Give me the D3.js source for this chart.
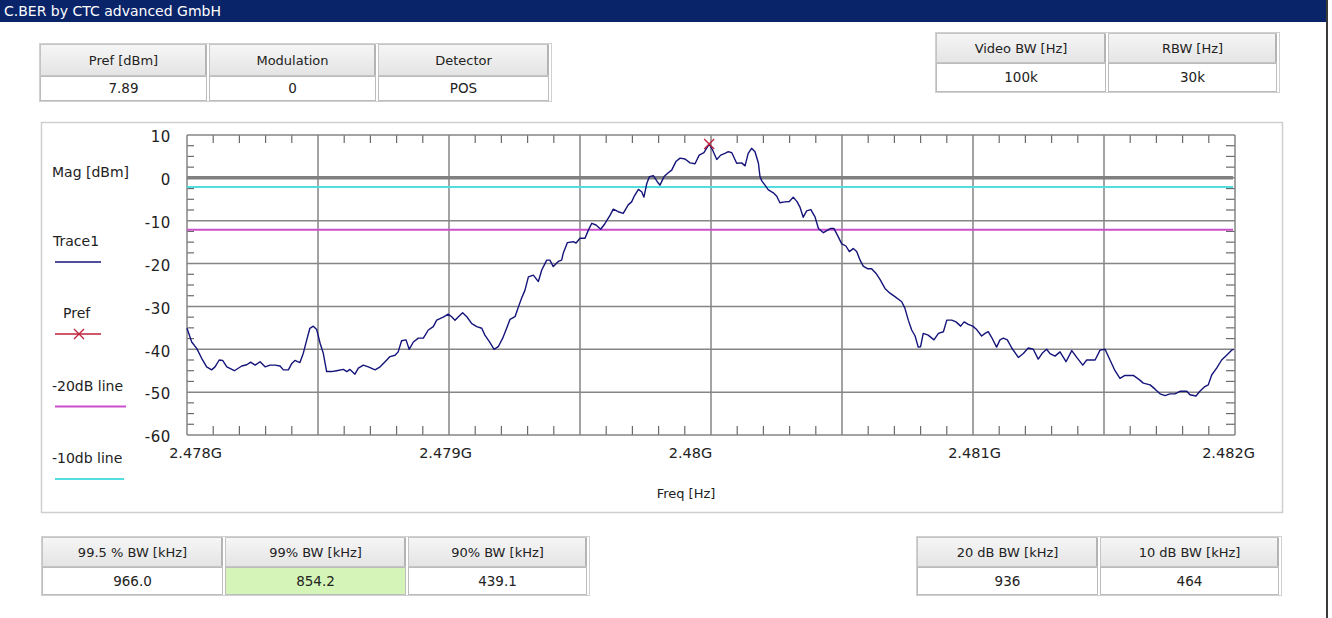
<!DOCTYPE html>
<html>
<head>
<meta charset="utf-8">
<script src="https://cdn.jsdelivr.net/npm/d3@7/dist/d3.min.js"></script>
<style>
  html, body { margin: 0; padding: 0; background: #ffffff; }
  svg { display: block; font-family: "DejaVu Sans", sans-serif; }
</style>
</head>
<body>
<svg id="chart" width="1332" height="618"></svg>
<script>
// ---------------- DATA ----------------
const titleText = "C.BER by CTC advanced GmbH";

const topLeftHeaders = ["Pref [dBm]", "Modulation", "Detector"];
const topLeftValues  = ["7.89", "0", "POS"];
const topRightHeaders = ["Video BW [Hz]", "RBW [Hz]"];
const topRightValues  = ["100k", "30k"];
const occBwHeaders = ["99.5 % BW [kHz]", "99% BW [kHz]", "90% BW [kHz]"];
const occBwValues  = ["966.0", "854.2", "439.1"];
const dbBwHeaders = ["20 dB BW [kHz]", "10 dB BW [kHz]"];
const dbBwValues  = ["936", "464"];

const freqTickValues = [2478, 2479, 2480, 2481, 2482];           // MHz
const freqTickLabels = ["2.478G", "2.479G", "2.48G", "2.481G", "2.482G"];
const magTickValues  = [10, 0, -10, -20, -30, -40, -50, -60];
const magTickLabels  = ["10", "0", "-10", "-20", "-30", "-40", "-50", "-60"];

const legendLabels = ["Mag [dBm]", "Trace1", "Pref", "-20dB line", "-10db line"];

const prefValue = 7.89;          // dBm
const prefFreq  = 2479.993;      // MHz
const zeroLine  = 0;             // dBm
const line10dB  = prefValue - 10;
const line20dB  = prefValue - 20;

// Trace1 (frequency in MHz, magnitude in dBm)
const traceFreq = [
 2478.000,2478.018,2478.037,2478.056,2478.075,2478.094,2478.107,2478.123,2478.136,2478.152,
 2478.181,2478.209,2478.228,2478.243,2478.260,2478.279,2478.298,2478.317,2478.336,2478.355,
 2478.368,2478.387,2478.400,2478.412,2478.431,2478.444,2478.457,2478.469,2478.482,2478.495,
 2478.508,2478.520,2478.533,2478.552,2478.571,2478.597,2478.610,2478.622,2478.641,2478.654,
 2478.673,2478.692,2478.718,2478.737,2478.756,2478.775,2478.794,2478.806,2478.819,2478.836,
 2478.848,2478.864,2478.883,2478.902,2478.921,2478.940,2478.953,2478.978,2478.997,2479.010,
 2479.023,2479.036,2479.052,2479.068,2479.087,2479.106,2479.125,2479.137,2479.156,2479.172,
 2479.188,2479.205,2479.220,2479.233,2479.252,2479.265,2479.277,2479.290,2479.303,2479.322,
 2479.341,2479.354,2479.373,2479.385,2479.398,2479.417,2479.430,2479.436,2479.452,2479.474,
 2479.485,2479.500,2479.519,2479.532,2479.545,2479.561,2479.579,2479.595,2479.615,2479.627,
 2479.646,2479.665,2479.684,2479.697,2479.706,2479.723,2479.736,2479.744,2479.755,2479.765,
 2479.780,2479.795,2479.805,2479.821,2479.837,2479.850,2479.866,2479.882,2479.901,2479.920,
 2479.939,2479.955,2479.973,2479.993,2480.006,2480.022,2480.037,2480.053,2480.066,2480.079,
 2480.098,2480.117,2480.130,2480.142,2480.155,2480.168,2480.181,2480.187,2480.194,2480.206,
 2480.219,2480.238,2480.251,2480.263,2480.282,2480.299,2480.314,2480.329,2480.340,2480.352,
 2480.365,2480.381,2480.397,2480.410,2480.429,2480.442,2480.457,2480.469,2480.482,2480.499,
 2480.515,2480.528,2480.543,2480.556,2480.569,2480.581,2480.597,2480.613,2480.630,2480.645,
 2480.664,2480.683,2480.702,2480.728,2480.740,2480.753,2480.766,2480.779,2480.791,2480.800,
 2480.810,2480.829,2480.851,2480.868,2480.887,2480.900,2480.919,2480.935,2480.953,2480.966,
 2480.982,2480.999,2481.014,2481.033,2481.046,2481.058,2481.071,2481.090,2481.103,2481.116,
 2481.131,2481.148,2481.173,2481.192,2481.211,2481.230,2481.249,2481.266,2481.281,2481.294,
 2481.313,2481.332,2481.355,2481.377,2481.396,2481.419,2481.434,2481.466,2481.485,2481.504,
 2481.523,2481.542,2481.561,2481.580,2481.612,2481.637,2481.650,2481.676,2481.695,2481.714,
 2481.733,2481.752,2481.771,2481.790,2481.816,2481.828,2481.851,2481.866,2481.885,2481.898,
 2481.911,2481.930,2481.949,2481.968,2481.987,2481.995
];
const traceMag = [
 -35.1,-38.3,-39.8,-42.1,-44.1,-44.8,-44.1,-42.5,-42.6,-44.1,
 -45.0,-43.9,-43.6,-43.0,-43.7,-42.9,-44.1,-43.7,-43.7,-43.9,
 -44.8,-44.8,-43.3,-42.6,-43.1,-40.9,-37.8,-35.1,-34.6,-35.4,
 -38.6,-40.9,-45.2,-45.2,-45.0,-44.7,-45.2,-44.7,-45.8,-44.4,
 -43.7,-44.1,-44.8,-44.1,-42.9,-41.7,-41.4,-40.6,-38.0,-37.8,
 -40.0,-38.3,-37.4,-37.4,-35.5,-34.7,-33.2,-32.5,-31.8,-32.4,
 -33.2,-32.4,-31.5,-32.4,-34.0,-34.7,-35.1,-36.7,-38.4,-40.0,
 -39.4,-37.4,-35.1,-33.0,-32.4,-30.1,-28.1,-26.2,-23.1,-22.7,
 -24.2,-21.5,-19.2,-19.2,-20.7,-19.5,-19.2,-17.6,-15.1,-14.9,
 -15.2,-14.1,-14.1,-12.2,-10.6,-11.0,-12.0,-10.7,-8.7,-7.3,
 -7.9,-8.3,-6.3,-5.6,-4.4,-2.7,-3.3,-4.5,-1.3,0.3,
 0.5,-0.9,-1.7,0.3,1.2,1.8,3.8,4.6,4.4,3.5,
 3.3,5.3,5.9,7.89,6.5,4.3,5.3,5.7,6.1,5.9,
 3.4,3.5,2.8,5.7,6.9,6.1,3.4,0.3,-0.7,-1.7,
 -2.8,-3.5,-4.3,-5.8,-5.6,-5.5,-4.5,-5.6,-6.9,-9.2,
 -7.7,-7.4,-9.1,-11.8,-12.8,-12.3,-11.8,-11.8,-13.3,-15.4,
 -15.9,-17.2,-16.5,-17.2,-19.2,-20.6,-21.2,-21.2,-22.3,-23.7,
 -25.8,-26.9,-27.7,-28.9,-30.4,-33.2,-35.5,-36.9,-39.5,-39.4,
 -36.3,-36.7,-37.8,-36.3,-35.9,-33.2,-33.2,-33.6,-34.6,-33.6,
 -34.2,-34.6,-35.4,-36.9,-36.3,-35.9,-37.2,-39.5,-37.8,-37.4,
 -37.8,-39.7,-41.9,-41.0,-39.7,-40.0,-42.3,-40.8,-40.0,-41.0,
 -41.6,-40.6,-42.9,-40.3,-41.9,-43.7,-42.5,-42.5,-40.2,-40.0,
 -42.5,-45.0,-46.8,-46.1,-46.1,-47.2,-47.9,-48.3,-49.3,-50.4,
 -50.8,-50.4,-50.4,-49.8,-49.8,-50.6,-50.9,-49.8,-48.7,-48.3,
 -46.0,-44.4,-42.5,-41.4,-40.2,-40.0
];

// ---------------- LAYOUT / STYLE ----------------
const svg = d3.select("#chart");
const FONT = "DejaVu Sans, sans-serif";
const gridColor = "#858585";
const tickColor = "#6a6a6a";

const plot = { left: 187, right: 1235, top: 135, bottom: 435 };
const x = d3.scaleLinear().domain([2478, 2482]).range([plot.left, plot.right]);
const y = d3.scaleLinear().domain([-60, 10]).range([plot.bottom, plot.top]);

// horizontal nudges of the x tick labels, in px (as placed by the original software)
const xLabelNudge = [8, -4, -21, 1, -7];

// gradient for header cells
const defs = svg.append("defs");
const grad = defs.append("linearGradient").attr("id", "hdr").attr("x1", 0).attr("y1", 0).attr("x2", 0).attr("y2", 1);
grad.append("stop").attr("offset", "0%").attr("stop-color", "#f6f6f6");
grad.append("stop").attr("offset", "100%").attr("stop-color", "#e4e4e4");

// title bar
svg.append("rect").attr("x", 0).attr("y", 0).attr("width", 1326).attr("height", 22).attr("fill", "#0a246a");
svg.append("text").attr("x", 4).attr("y", 16).attr("fill", "#ffffff")
  .attr("font-size", 14).attr("font-family", FONT).text(titleText);
// right window edge
svg.append("rect").attr("x", 1326).attr("y", 0).attr("width", 2).attr("height", 618).attr("fill", "#3a3a3a");

// tables
function drawTable(x0, y0, widths, hH, vH, headers, values, hiIndex) {
  const g = svg.append("g");
  let cx = x0;
  const total = d3.sum(widths);
  g.append("rect").attr("x", x0 - 0.5).attr("y", y0 - 0.5).attr("width", total + 1).attr("height", hH + vH + 1)
    .attr("fill", "none").attr("stroke", "#d0d0d0");
  widths.forEach((w, i) => {
    const cw = w - 2;
    g.append("rect").attr("x", cx + 0.5).attr("y", y0 + 0.5).attr("width", cw - 1).attr("height", hH - 1)
      .attr("fill", "url(#hdr)").attr("stroke", "#c4c4c4");
    g.append("rect").attr("x", cx + cw - 2).attr("y", y0 + 1).attr("width", 2).attr("height", hH - 2).attr("fill", "#b4b4b4");
    g.append("rect").attr("x", cx + 0.5).attr("y", y0 + hH + 0.5).attr("width", cw - 1).attr("height", vH - 1)
      .attr("fill", i === hiIndex ? "#d4f5b7" : "#ffffff").attr("stroke", "#bcbcbc");
    g.append("text").attr("x", cx + cw / 2).attr("y", y0 + hH / 2).attr("dy", "0.36em")
      .attr("text-anchor", "middle").attr("font-size", 13).attr("font-family", FONT).attr("fill", "#222")
      .text(headers[i]);
    g.append("text").attr("x", cx + cw / 2).attr("y", y0 + hH + vH / 2).attr("dy", "0.36em")
      .attr("text-anchor", "middle").attr("font-size", 13.5).attr("font-family", FONT).attr("fill", "#222")
      .text(values[i]);
    cx += w;
  });
}
drawTable(40, 44, [169, 169, 173], 32, 25, topLeftHeaders, topLeftValues, -1);
drawTable(936, 33, [172, 171], 30, 29, topRightHeaders, topRightValues, -1);
drawTable(42, 537, [183, 183, 181], 30, 28, occBwHeaders, occBwValues, 1);
drawTable(917, 537, [183, 181], 30, 28, dbBwHeaders, dbBwValues, -1);

// chart panel
svg.append("rect").attr("x", 41.5).attr("y", 122.5).attr("width", 1241).attr("height", 390)
  .attr("fill", "#ffffff").attr("stroke", "#cfcfcf").attr("stroke-width", 1.5);

const gPlot = svg.append("g");

// minor ticks
const minorX = d3.range(2478, 2482.0001, 0.1).filter(v => Math.abs(v - Math.round(v * 2) / 2) > 1e-6);
const minorY = d3.range(-60, 10.0001, 2.5).filter(v => Math.abs(v % 10) > 1e-6);
gPlot.selectAll(".mxt").data(minorX).join("line")
  .attr("x1", d => x(d)).attr("x2", d => x(d)).attr("y1", plot.top).attr("y2", plot.top + 8)
  .attr("stroke", tickColor).attr("stroke-width", 1.2);
gPlot.selectAll(".mxb").data(minorX).join("line")
  .attr("x1", d => x(d)).attr("x2", d => x(d)).attr("y1", plot.bottom - 9).attr("y2", plot.bottom)
  .attr("stroke", tickColor).attr("stroke-width", 1.2);
gPlot.selectAll(".myl").data(minorY).join("line")
  .attr("x1", plot.left).attr("x2", plot.left + 7).attr("y1", d => y(d)).attr("y2", d => y(d))
  .attr("stroke", tickColor).attr("stroke-width", 1.2);
gPlot.selectAll(".myr").data(minorY).join("line")
  .attr("x1", plot.right - 9).attr("x2", plot.right).attr("y1", d => y(d)).attr("y2", d => y(d))
  .attr("stroke", tickColor).attr("stroke-width", 1.2);

// major grid
const majorX = d3.range(2478, 2482.0001, 0.5);
gPlot.selectAll(".gx").data(majorX).join("line")
  .attr("x1", d => x(d)).attr("x2", d => x(d)).attr("y1", plot.top).attr("y2", plot.bottom)
  .attr("stroke", gridColor).attr("stroke-width", 1.5);
gPlot.selectAll(".gy").data(magTickValues).join("line")
  .attr("x1", plot.left).attr("x2", plot.right).attr("y1", d => y(d)).attr("y2", d => y(d))
  .attr("stroke", gridColor).attr("stroke-width", 1.5);

// reference lines
gPlot.append("line").attr("x1", plot.left).attr("x2", plot.right - 2).attr("y1", y(zeroLine)).attr("y2", y(zeroLine))
  .attr("stroke", "#808080").attr("stroke-width", 3.5);
gPlot.append("line").attr("x1", plot.left).attr("x2", plot.right - 2).attr("y1", y(line10dB)).attr("y2", y(line10dB))
  .attr("stroke", "#52dede").attr("stroke-width", 2);
gPlot.append("line").attr("x1", plot.left).attr("x2", plot.right - 2).attr("y1", y(line20dB)).attr("y2", y(line20dB))
  .attr("stroke", "#cc4fcc").attr("stroke-width", 2);

// trace
const traceData = traceFreq.map((f, i) => [f, traceMag[i]]);
gPlot.append("path").datum(traceData)
  .attr("d", d3.line().x(d => x(d[0])).y(d => y(d[1])))
  .attr("fill", "none").attr("stroke", "#14147a").attr("stroke-width", 1.4).attr("stroke-linejoin", "round");

// pref marker
const mk = 5;
gPlot.append("path")
  .attr("d", `M${x(prefFreq) - mk},${y(prefValue) - mk}L${x(prefFreq) + mk},${y(prefValue) + mk}M${x(prefFreq) - mk},${y(prefValue) + mk}L${x(prefFreq) + mk},${y(prefValue) - mk}`)
  .attr("stroke", "#c0203a").attr("stroke-width", 1.3).attr("fill", "none");

// axes labels via d3 axes
const yAxis = d3.axisLeft(y).tickValues(magTickValues).tickFormat((d, i) => magTickLabels[i]).tickSize(0).tickPadding(0);
const gy = svg.append("g").attr("transform", `translate(171,2)`).call(yAxis);
gy.select(".domain").remove();
gy.selectAll("text").attr("font-size", 15).attr("font-family", FONT).attr("fill", "#222").attr("letter-spacing", "0.6px");

const xAxis = d3.axisBottom(x).tickValues(freqTickValues).tickFormat((d, i) => freqTickLabels[i]).tickSize(0).tickPadding(0);
const gx = svg.append("g").attr("transform", `translate(0,448)`).call(xAxis);
gx.select(".domain").remove();
gx.selectAll("text").attr("font-size", 14.5).attr("font-family", FONT).attr("fill", "#222")
  .attr("dx", (d, i) => xLabelNudge[i]);

svg.append("text").attr("x", 686).attr("y", 493).attr("dy", "0.36em").attr("text-anchor", "middle")
  .attr("font-size", 13).attr("font-family", FONT).attr("fill", "#222").text("Freq [Hz]");

// legend
const legendTextY = [172, 241, 313, 386, 458];
const legendTextX = [52, 53, 63, 52, 52];
legendLabels.forEach((t, i) => {
  svg.append("text").attr("x", legendTextX[i]).attr("y", legendTextY[i]).attr("dy", "0.36em")
    .attr("font-size", 14).attr("font-family", FONT).attr("fill", "#222").text(t);
});
svg.append("line").attr("x1", 55).attr("x2", 101).attr("y1", 262).attr("y2", 262).attr("stroke", "#14147a").attr("stroke-width", 1.4);
svg.append("line").attr("x1", 55).attr("x2", 101).attr("y1", 334).attr("y2", 334).attr("stroke", "#c0203a").attr("stroke-width", 1.3);
svg.append("path").attr("d", "M74,329L84,339M74,339L84,329").attr("stroke", "#c0203a").attr("stroke-width", 1.3);
svg.append("line").attr("x1", 55).attr("x2", 126).attr("y1", 406.5).attr("y2", 406.5).attr("stroke", "#cc4fcc").attr("stroke-width", 2);
svg.append("line").attr("x1", 55).attr("x2", 124).attr("y1", 479).attr("y2", 479).attr("stroke", "#52dede").attr("stroke-width", 2);
</script>
</body>
</html>
